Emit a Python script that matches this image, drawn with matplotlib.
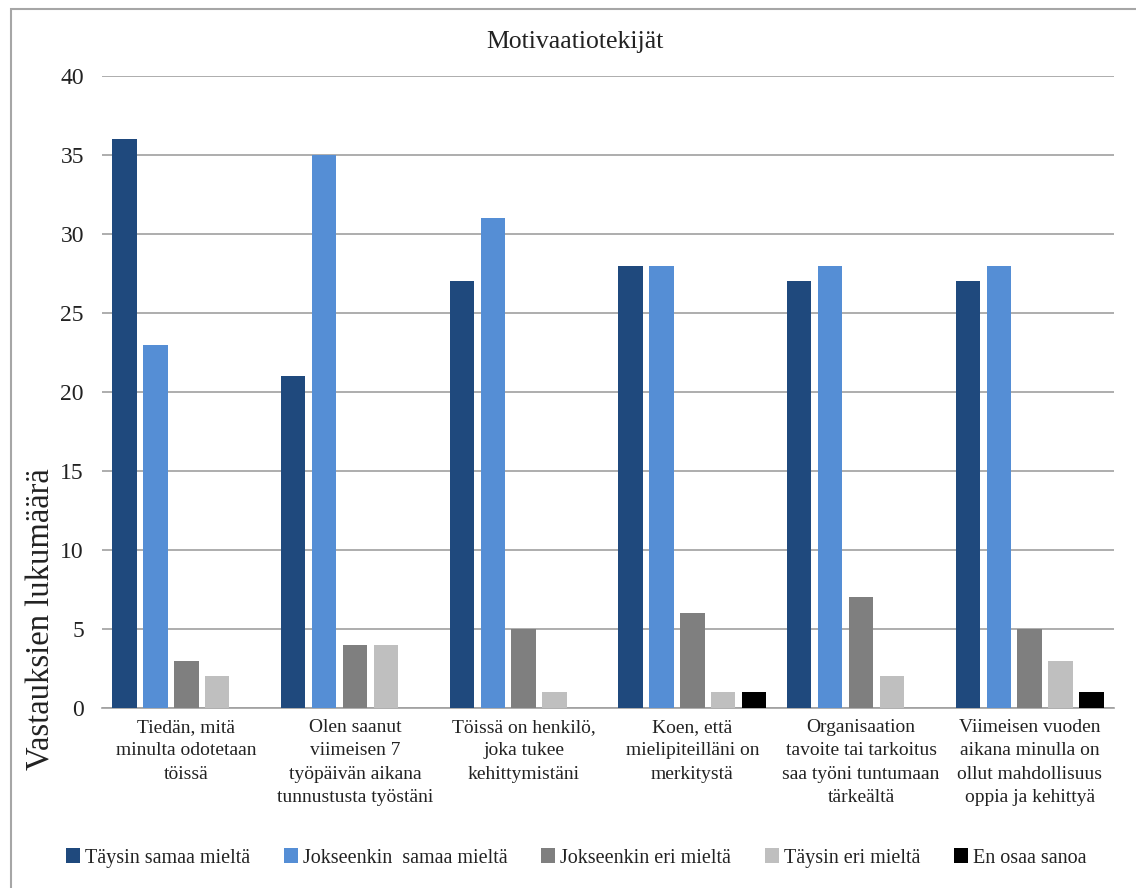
import numpy as np
import matplotlib.pyplot as plt
from matplotlib.patches import Rectangle

plt.rcParams['font.family'] = ['Liberation Serif', 'DejaVu Serif']

categories = ["Tiedän, mitä\nminulta odotetaan\ntöissä",
              "Olen saanut\nviimeisen 7\ntyöpäivän aikana\ntunnustusta työstäni",
              "Töissä on henkilö,\njoka tukee\nkehittymistäni",
              "Koen, että\nmielipiteilläni on\nmerkitystä",
              "Organisaation\ntavoite tai tarkoitus\nsaa työni tuntumaan\ntärkeältä",
              "Viimeisen vuoden\naikana minulla on\nollut mahdollisuus\noppia ja kehittyä"]
series = ["Täysin samaa mieltä", "Jokseenkin  samaa mieltä", "Jokseenkin eri mieltä",
          "Täysin eri mieltä", "En osaa sanoa"]
taysin_samaa = [36, 21, 27, 28, 27, 27]
jokseenkin_samaa = [23, 35, 31, 28, 28, 28]
jokseenkin_eri = [3, 4, 5, 6, 7, 5]
taysin_eri = [2, 4, 1, 1, 2, 3]
en_osaa = [0, 0, 0, 1, 0, 1]
colors = ['#1f497d', '#558ed5', '#7f7f7f', '#bfbfbf', '#000000']

values = [taysin_samaa, jokseenkin_samaa, jokseenkin_eri, taysin_eri, en_osaa]

fig = plt.figure(figsize=(11.36, 8.88), dpi=100)
ax = fig.add_axes([102/1136, 1-708/888, 1012/1136, 632/888])

# outer frame (only top and left visible in the original)
fig.patches.append(Rectangle((11/1136, -0.1), 1.2, 1-9/888+0.1, transform=fig.transFigure,
                             fill=False, edgecolor='#a6a6a6', linewidth=1.5))

x = np.arange(len(categories))
step = 0.183
w = 0.145
for j, (vals, name, c) in enumerate(zip(values, series, colors)):
    ax.bar(x + (j-2)*step, vals, w, color=c, label=name, zorder=3)

ax.set_xlim(-0.5, len(categories)-0.5)
ax.set_ylim(0, 40)
ax.set_yticks(range(0, 41, 5))
ax.yaxis.grid(True, color='#a0a0a0', linewidth=1.2, zorder=0)
for s in ['top', 'right', 'left']:
    ax.spines[s].set_visible(False)
ax.spines['bottom'].set_color('#a0a0a0')
ax.spines['bottom'].set_linewidth(1.2)
ax.tick_params(axis='y', length=0, labelsize=17, pad=13, colors='#222222')
ax.set_xticks(x)
ax.set_xticklabels([])
ax.tick_params(axis='x', length=0)

# category labels as text so the line spacing can be set
for xi, cat in zip(x, categories):
    ax.text(xi, -0.017, cat, transform=ax.get_xaxis_transform(), ha='center', va='top',
            fontsize=14, linespacing=1.5, color='#222222')

ax.set_ylabel("Vastauksien lukumäärä", fontsize=23.5, color='#222222')
ax.yaxis.set_label_coords(-0.045, 0.14)

fig.text(575/1136, 1-42/888, "Motivaatiotekijät", ha='center', va='center', fontsize=18.5, color='#222222')

fig.legend(loc='center', bbox_to_anchor=(576/1136, 1-858/888), ncol=5, frameon=False,
           fontsize=14.5, handlelength=0.7, handleheight=0.7, handletextpad=0.25,
           columnspacing=1.67, labelcolor='#222222')

fig.savefig('out.png', dpi=100)
